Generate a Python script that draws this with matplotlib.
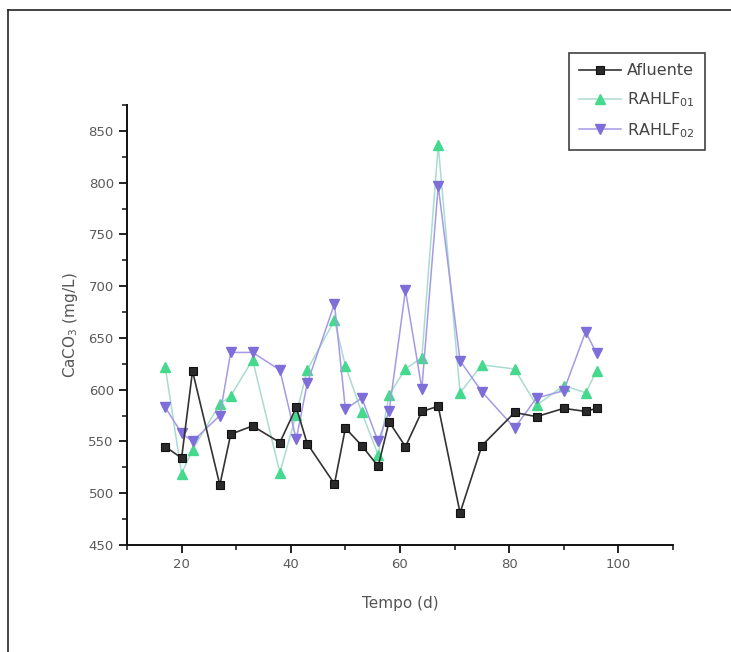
import matplotlib
matplotlib.use("Agg")
import matplotlib.pyplot as plt
from matplotlib.lines import Line2D
from matplotlib.ticker import MultipleLocator

# Sampling days
tempo = [17, 20, 22, 27, 29, 33, 38, 41, 43, 48, 50, 53, 56, 58, 61, 64, 67, 71, 75, 81, 85, 90, 94, 96]

# CaCO3 (mg/L)
afluente = [545, 534, 618, 508, 557, 565, 549, 583, 548, 509, 563, 546, 526, 569, 545, 579, 584, 481,
            546, 578, 574, 582, 579, 582]
rahlf01 = [622, 519, 542, 586, 594, 629, 520, 576, 619, 667, 623, 578, 537, 595, 620, 631, 836, 597,
           624, 620, 585, 604, 597, 618]
rahlf02 = [583, 558, 550, 575, 636, 636, 619, 552, 606, 683, 581, 592, 550, 579, 696, 601, 797, 628,
           598, 563, 592, 599, 656, 635]

W, H = 731, 652
fig = plt.figure(figsize=(W / 100, H / 100), dpi=100)
fig.patch.set_facecolor("white")

# page frame
fig.add_artist(Line2D([8 / W, 1.0], [1 - 10 / H, 1 - 10 / H], color="#222222", lw=1.2,
                      transform=fig.transFigure))
fig.add_artist(Line2D([8 / W, 8 / W], [0.0, 1 - 10 / H], color="#222222", lw=1.2,
                      transform=fig.transFigure))

ax = fig.add_axes([127 / W, 1 - 545 / H, (673 - 127) / W, (545 - 105) / H])

ax.plot(tempo, afluente, color="#333333", lw=1.2, marker="s", ms=5.2,
        mfc="#2a2a2a", mec="#111111", mew=0.8, label="Afluente", zorder=3)
ax.plot(tempo, rahlf01, color="#a8dcd0", lw=1.1, marker="^", ms=7,
        mfc="#45d98e", mec="#45d98e", label=r"RAHLF$_{01}$", zorder=2)
ax.plot(tempo, rahlf02, color="#a49ae6", lw=1.1, marker="v", ms=7,
        mfc="#7d6ed9", mec="#7d6ed9", label=r"RAHLF$_{02}$", zorder=2)

ax.set_xlim(10, 110)
ax.set_ylim(450, 875)
ax.xaxis.set_major_locator(MultipleLocator(20))
ax.xaxis.set_minor_locator(MultipleLocator(10))
ax.yaxis.set_major_locator(MultipleLocator(50))
ax.yaxis.set_minor_locator(MultipleLocator(25))
ax.set_xticks([20, 40, 60, 80, 100])

for s in ("top", "right"):
    ax.spines[s].set_visible(False)
for s in ("left", "bottom"):
    ax.spines[s].set_linewidth(1.4)
    ax.spines[s].set_color("#111111")

ax.tick_params(which="major", direction="out", length=6, width=1.3, color="#111111",
               labelsize=9.5, labelcolor="#5a5a5a")
ax.tick_params(which="minor", direction="out", length=3.5, width=1.1, color="#111111")

ax.set_xlabel("Tempo (d)", fontsize=11, color="#555555", labelpad=18)
ax.set_ylabel(r"CaCO$_3$ (mg/L)", fontsize=11, color="#555555", labelpad=6)

leg = ax.legend(loc="upper left", bbox_to_anchor=(569 / W, 1 - 53 / H),
                bbox_transform=fig.transFigure, borderaxespad=0, fancybox=False,
                frameon=True, fontsize=11.5, handlelength=2.6, labelspacing=0.75,
                borderpad=0.65, handletextpad=0.4)
leg.get_frame().set_edgecolor("#111111")
leg.get_frame().set_linewidth(1.2)
for t in leg.get_texts():
    t.set_color("#444444")

fig.savefig("out.png", dpi=100)
